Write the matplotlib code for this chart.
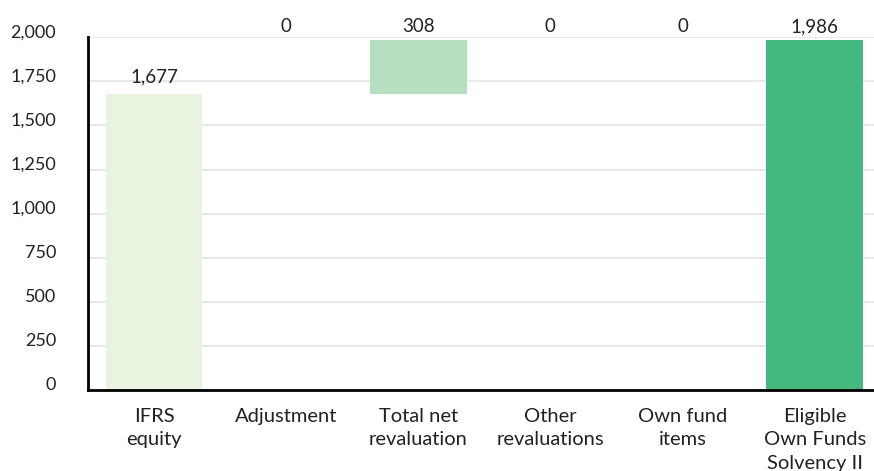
import matplotlib.pyplot as plt
from matplotlib.ticker import FuncFormatter

plt.rcParams['font.family'] = ['Lato', 'DejaVu Sans']

# datos del grafico cascada
categorias = ["IFRS\nequity", "Adjustment", "Total net\nrevaluation",
              "Other\nrevaluations", "Own fund\nitems", "Eligible\nOwn Funds\nSolvency II"]
valores = [1677, 0, 308, 0, 0, 1986]
es_total = [True, False, False, False, False, True]
colores = ["#e8f4e0", "#b6dfc0", "#b6dfc0", "#b6dfc0", "#b6dfc0", "#45b87f"]

fig = plt.figure(figsize=(8.74, 4.71), dpi=100)
ax = fig.add_axes([0.1007, 0.172, 0.907, 0.749])

# bases de las barras
bases = []
acumulado = 0
for v, t in zip(valores, es_total):
    if t:
        bases.append(0)
        acumulado = v
    else:
        bases.append(acumulado)
        acumulado += v

x = range(len(categorias))
ax.bar(x, valores, bottom=bases, width=0.73, color=colores, zorder=2)

# etiquetas de valores
for i, (v, b) in enumerate(zip(valores, bases)):
    if v == 0:
        y = 2030
    else:
        y = min(b + v + 68, 2030)
    ax.text(i, y, f"{v:,}", ha='center', va='baseline', fontsize=13.5,
            color='#222222', clip_on=False)

ax.set_xlim(-0.5, 5.5)
ax.set_ylim(0, 2000)
ax.set_yticks(range(0, 2001, 250))
ax.yaxis.set_major_formatter(FuncFormatter(lambda v, p: f"{int(v):,}"))
ax.grid(axis='y', color='#e8e8e8', linewidth=1.5, zorder=0)
ax.set_axisbelow(True)

ax.set_xticks(list(x))
ax.set_xticklabels(categorias, fontsize=14.5, color='#222222', linespacing=1.45)
ax.tick_params(axis='x', length=0, pad=13)
ax.tick_params(axis='y', length=0, pad=23, labelsize=13, labelcolor='#222222')
for lab in ax.get_yticklabels():
    lab.set_verticalalignment('baseline')

for s in ['top', 'right']:
    ax.spines[s].set_visible(False)
ax.spines['left'].set_linewidth(2)
ax.spines['bottom'].set_linewidth(2)
ax.spines['left'].set_color('black')
ax.spines['bottom'].set_color('black')

plt.savefig('out.png', dpi=100)
